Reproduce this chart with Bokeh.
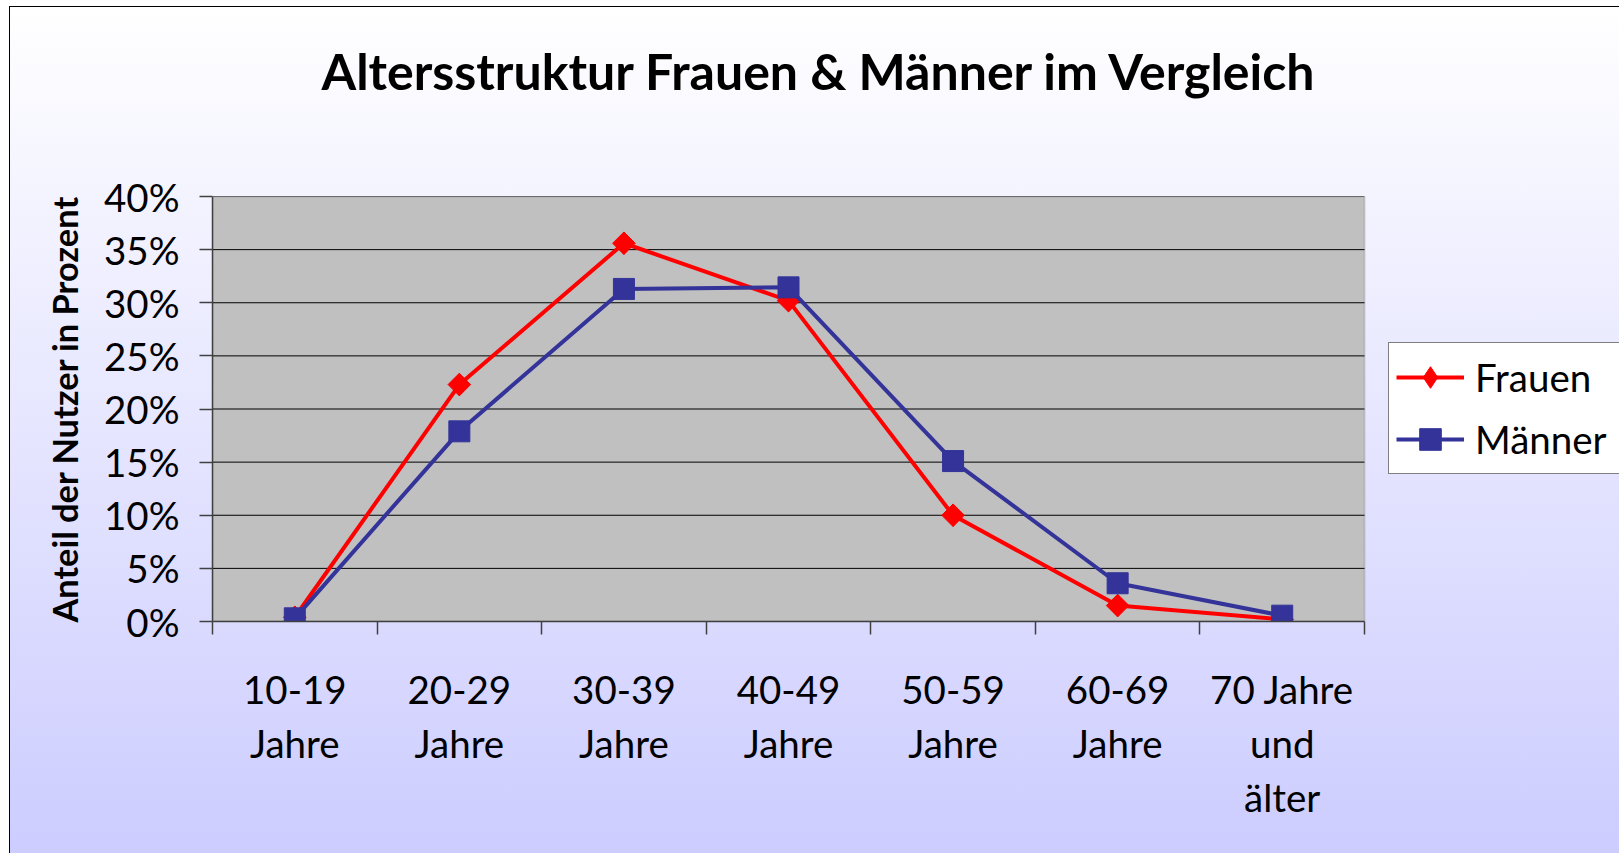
import numpy as np
from bokeh.plotting import figure
from bokeh.models import (Range1d, FixedTicker, Legend, LegendItem, PrintfTickFormatter, Title,
                          BoxAnnotation)
from bokeh.embed import file_html
from bokeh.resources import INLINE

# ---- data ----
categories = ["10-19\nJahre", "20-29\nJahre", "30-39\nJahre", "40-49\nJahre",
              "50-59\nJahre", "60-69\nJahre", "70 Jahre\nund\nälter"]
frauen = [0.4, 22.3, 35.6, 30.2, 10.0, 1.5, 0.2]
maenner = [0.3, 17.9, 31.3, 31.45, 15.1, 3.6, 0.55]
y_ticks = [0, 5, 10, 15, 20, 25, 30, 35, 40]
title_text = "Altersstruktur Frauen & Männer im Vergleich"
y_label = "Anteil der Nutzer in Prozent"
series_names = ["Frauen", "Männer"]

FONT = "Lato"
RED = "#FF0000"
BLUE = "#333399"
AXIS = "#404040"

W, H = 1619, 853
PLOT_LEFT, PLOT_RIGHT = 212, 1364      # pixel extent of the grey plot area
n = len(categories)
x_pos = [i + 0.5 for i in range(n)]
# the frame reaches the right edge (room for the legend); data 0..n fills the grey area
x_end = n * (W - PLOT_LEFT) / (PLOT_RIGHT - PLOT_LEFT)
y0, y1 = min(y_ticks), max(y_ticks)

bg = ("linear-gradient(#000000, #000000) 9px 6px / 1px 100% no-repeat, "
      "linear-gradient(#000000, #000000) 9px 6px / 100% 1px no-repeat, "
      "linear-gradient(to bottom, #FFFFFF 0%, #CCCCFF 100%) 10px 7px / 100% 100% no-repeat, "
      "#FFFFFF")

p = figure(width=W, height=H, title=None,
           x_range=Range1d(0, x_end), y_range=Range1d(y0, y1),
           output_backend="svg", toolbar_location=None,
           min_border_left=PLOT_LEFT, min_border_right=0, min_border_top=196, min_border_bottom=232,
           background_fill_alpha=0, border_fill_alpha=0, outline_line_alpha=0,
           styles={"background": bg})

# grey plot area
p.add_layout(BoxAnnotation(left=0, right=n, bottom=y0, top=y1, fill_color="#C0C0C0",
                           fill_alpha=1, line_color="#808080", line_width=2, level="underlay"))

# title (spacer first, then the title itself)
p.add_layout(Title(text=" ", text_font_size="2px", standoff=92), "above")
p.add_layout(Title(text=title_text, align="left", offset=109, standoff=0,
                   text_font=FONT, text_font_size="50px", text_font_style="bold",
                   text_color="black"), "above")

# grid lines, limited to the plot area
p.xgrid.visible = False
p.ygrid.visible = False
p.segment(x0=[0] * len(y_ticks), y0=y_ticks, x1=[n] * len(y_ticks), y1=y_ticks,
          line_color="black", line_width=1)

# y axis
ya = p.yaxis[0]
ya.ticker = FixedTicker(ticks=y_ticks)
ya.formatter = PrintfTickFormatter(format="%d%%")
ya.major_tick_out = 13
ya.major_tick_in = 0
ya.minor_tick_out = 0
ya.minor_tick_in = 0
ya.axis_line_color = AXIS
ya.axis_line_width = 1.5
ya.major_tick_line_color = AXIS
ya.major_tick_line_width = 1.5
ya.major_label_text_font = FONT
ya.major_label_text_font_size = "38.5px"
ya.major_label_text_color = "black"
ya.major_label_standoff = 20
ya.axis_label = y_label
ya.axis_label_text_font = FONT
ya.axis_label_text_font_size = "34.4px"
ya.axis_label_text_font_style = "bold"
ya.axis_label_text_color = "black"
ya.axis_label_standoff = 16

# x axis
xa = p.xaxis[0]
xa.bounds = (0, n)
xa.ticker = FixedTicker(ticks=x_pos, minor_ticks=list(range(n + 1)))
xa.major_label_overrides = {x: lab for x, lab in zip(x_pos, categories)}
xa.major_tick_out = 0
xa.major_tick_in = 0
xa.minor_tick_out = 13
xa.minor_tick_in = 0
xa.minor_tick_line_color = AXIS
xa.minor_tick_line_width = 1.5
xa.axis_line_color = AXIS
xa.axis_line_width = 1.5
xa.major_label_text_font = FONT
xa.major_label_text_font_size = "38.5px"
xa.major_label_text_color = "black"
xa.major_label_text_line_height = 1.18
xa.major_label_standoff = 31

# series
fr_line = p.line(x_pos, frauen, line_color=RED, line_width=4)
fr_leg = p.scatter(x_pos, frauen, marker="diamond", size=22, fill_color=RED, line_color=RED)
fr_mark = p.scatter(x_pos, frauen, marker="square", angle=np.pi / 4, size=16,
                    fill_color=RED, line_color=RED)
ma_line = p.line(x_pos, maenner, line_color=BLUE, line_width=4)
ma_mark = p.scatter(x_pos, maenner, marker="square", size=21, fill_color=BLUE, line_color=BLUE)

legend = Legend(items=[LegendItem(label=series_names[0], renderers=[fr_line, fr_leg]),
                       LegendItem(label=series_names[1], renderers=[ma_line, ma_mark])],
                location=(1176, 147))
legend.label_text_font = FONT
legend.label_text_font_size = "38.5px"
legend.label_text_color = "black"
legend.glyph_width = 68
legend.glyph_height = 54
legend.label_height = 54
legend.label_width = 200
legend.label_standoff = 11
legend.spacing = 8
legend.padding = 7
legend.margin = 0
legend.border_line_color = "black"
legend.border_line_width = 1
legend.background_fill_color = "white"
legend.background_fill_alpha = 1
p.add_layout(legend)

open("out.html", "w").write(file_html(p, INLINE))
